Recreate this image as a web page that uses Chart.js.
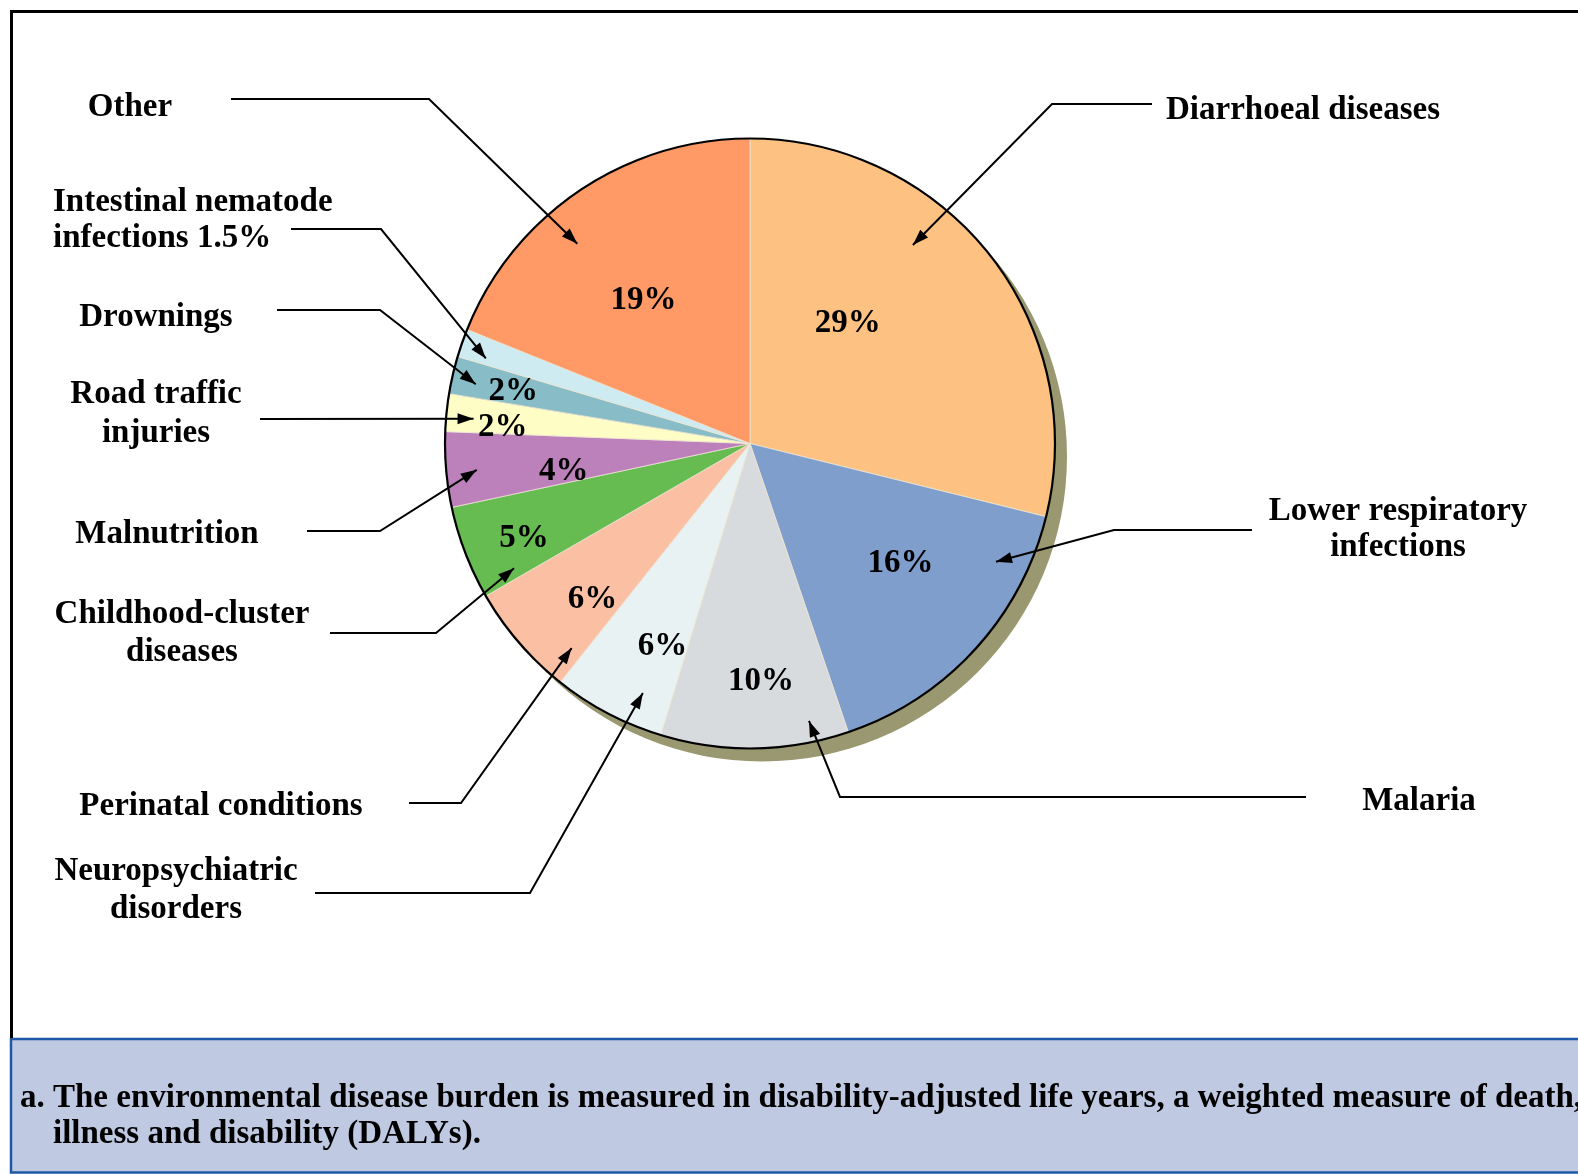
<!DOCTYPE html>
<html>
<head>
<meta charset="utf-8">
<script src="https://cdn.jsdelivr.net/npm/chart.js@4/dist/chart.umd.min.js"></script>
<style>
  html, body { margin: 0; padding: 0; background: #ffffff; }
  #wrap { position: relative; width: 1578px; height: 1174px; }
  canvas { display: block; }
</style>
</head>
<body>
<div id="wrap"><canvas id="c" width="1578" height="1174"></canvas></div>
<script>
// ---- data ----
const categories = [
  "Diarrhoeal diseases",
  "Lower respiratory infections",
  "Malaria",
  "Neuropsychiatric disorders",
  "Perinatal conditions",
  "Childhood-cluster diseases",
  "Malnutrition",
  "Road traffic injuries",
  "Drownings",
  "Intestinal nematode infections",
  "Other"
];
const shares = [29, 16, 10, 6, 6, 5, 4, 2, 2, 1.5, 19];
const percentLabels = ["29%", "16%", "10%", "6%", "6%", "5%", "4%", "2%", "2%", "", "19%"];
const labelLines = [
  ["Diarrhoeal diseases"],
  ["Lower respiratory", "infections"],
  ["Malaria"],
  ["Neuropsychiatric", "disorders"],
  ["Perinatal conditions"],
  ["Childhood-cluster", "diseases"],
  ["Malnutrition"],
  ["Road traffic", "injuries"],
  ["Drownings"],
  ["Intestinal nematode", "infections 1.5%"],
  ["Other"]
];
const captionLines = [
  ["a.", "The environmental disease burden is measured in disability-adjusted life years, a weighted measure of death,"],
  ["", "illness and disability (DALYs)."]
];

// ---- styles / layout ----
const sliceColors = ["#FDC281", "#7F9ECB", "#D8DBDD", "#E8F2F2", "#FBBFA3", "#66BB51",
                     "#BC80BB", "#FFFDC6", "#88BCC6", "#CDEBF0", "#FF9966"];
const FONT = "bold 33px 'Liberation Serif', 'Times New Roman', serif";
const TEXT_DY = 3;
// percent label placement inside slice: t = fraction along slice angle, r = fraction of radius
const pctPlace = [
  {t:0.37,r:0.515},{t:0.42,r:0.626},{t:0.45,r:0.77},{t:0.31,r:0.715},{t:0.34,r:0.72},
  {t:0.44,r:0.80},{t:0.32,r:0.616},{t:0.29,r:0.813},{t:0.53,r:0.797},null,{t:0.47,r:0.593}
];
// arrow tip placement inside slice
const tipPlace = [
  {t:0.379,r:0.842},{t:0.206,r:0.895},{t:0.19,r:0.93},{t:0.29,r:0.89},{t:0.12,r:0.89},
  {t:0.12,r:0.875},{t:0.46,r:0.9},{t:0.4,r:0.91},{t:0.39,r:0.92},{t:0.24,r:0.91},{t:0.40,r:0.866}
];
// label text placement and leader elbows (page pixels)
const labelPlace = [
  {align:"left",   x:1166, ys:[107],      line:[[1152,104],[1052,104]]},
  {align:"center", x:1398, ys:[508,544],  line:[[1252,530],[1114,530]]},
  {align:"center", x:1419, ys:[798],      line:[[1306,797],[840,797]]},
  {align:"center", x:176,  ys:[868,906],  line:[[315,893],[530,893]]},
  {align:"center", x:221,  ys:[803],      line:[[409,803],[461,803]]},
  {align:"center", x:182,  ys:[611,649],  line:[[330,633],[436,633]]},
  {align:"center", x:167,  ys:[531],      line:[[307,531],[380,531]]},
  {align:"center", x:156,  ys:[391,430],  line:[[260,419]]},
  {align:"center", x:156,  ys:[314],      line:[[277,310],[380,310]]},
  {align:"left",   x:53,   ys:[199,235],  line:[[291,229],[381,229]]},
  {align:"center", x:130,  ys:[104],      line:[[231,99],[429,99]]}
];

function polar(arc, p) {
  const a = arc.startAngle + p.t * (arc.endAngle - arc.startAngle);
  const r = p.r * arc.outerRadius;
  return [arc.x + Math.cos(a) * r, arc.y + Math.sin(a) * r];
}

const decor = {
  id: "decor",
  beforeDraw(chart) {
    const ctx = chart.ctx;
    ctx.save();
    ctx.fillStyle = "#ffffff";
    ctx.fillRect(0, 0, chart.width, chart.height);
    // caption box
    ctx.fillStyle = "#BFC9E2";
    ctx.fillRect(11, 1039, 1567, 134);
    ctx.strokeStyle = "#1F58A4";
    ctx.lineWidth = 2.5;
    ctx.beginPath();
    ctx.moveTo(1578, 1039); ctx.lineTo(11, 1039); ctx.lineTo(11, 1172.5); ctx.lineTo(1578, 1172.5);
    ctx.stroke();
    // black frame
    ctx.strokeStyle = "#000000";
    ctx.lineWidth = 3;
    ctx.beginPath();
    ctx.moveTo(11.5, 1038); ctx.lineTo(11.5, 11.5); ctx.lineTo(1578, 11.5);
    ctx.stroke();
    // caption text
    ctx.fillStyle = "#000000";
    ctx.font = FONT;
    ctx.textBaseline = "middle";
    ctx.textAlign = "left";
    const cy = [1098, 1134];
    captionLines.forEach((ln, i) => {
      if (ln[0]) ctx.fillText(ln[0], 20, cy[i]);
      ctx.fillText(ln[1], 53, cy[i]);
    });
    ctx.restore();
  },
  beforeDatasetsDraw(chart) {
    const arc = chart.getDatasetMeta(0).data[0];
    const ctx = chart.ctx;
    ctx.save();
    ctx.fillStyle = "#9A9870";
    ctx.beginPath();
    ctx.arc(arc.x + 12, arc.y + 13, arc.outerRadius, 0, Math.PI * 2);
    ctx.fill();
    ctx.restore();
  },
  afterDatasetsDraw(chart) {
    const arcs = chart.getDatasetMeta(0).data;
    const ctx = chart.ctx;
    ctx.save();
    // outline
    ctx.strokeStyle = "#000000";
    ctx.lineWidth = 2.2;
    ctx.beginPath();
    ctx.arc(arcs[0].x, arcs[0].y, arcs[0].outerRadius, 0, Math.PI * 2);
    ctx.stroke();
    // percent labels
    ctx.fillStyle = "#000000";
    ctx.font = FONT;
    ctx.textAlign = "center";
    ctx.textBaseline = "middle";
    arcs.forEach((a, i) => {
      if (!pctPlace[i] || !percentLabels[i]) return;
      const [x, y] = polar(a, pctPlace[i]);
      ctx.fillText(percentLabels[i], x, y + TEXT_DY);
    });
    // leader lines + arrows
    ctx.lineWidth = 2;
    ctx.strokeStyle = "#000000";
    arcs.forEach((a, i) => {
      const tip = polar(a, tipPlace[i]);
      const pts = labelPlace[i].line.concat([tip]);
      ctx.beginPath();
      ctx.moveTo(pts[0][0], pts[0][1]);
      for (let k = 1; k < pts.length; k++) ctx.lineTo(pts[k][0], pts[k][1]);
      ctx.stroke();
      const prev = pts[pts.length - 2];
      const ang = Math.atan2(tip[1] - prev[1], tip[0] - prev[0]);
      const L = 16, W = 5.5;
      ctx.beginPath();
      ctx.moveTo(tip[0], tip[1]);
      ctx.lineTo(tip[0] - L * Math.cos(ang) + W * Math.sin(ang), tip[1] - L * Math.sin(ang) - W * Math.cos(ang));
      ctx.lineTo(tip[0] - L * Math.cos(ang) - W * Math.sin(ang), tip[1] - L * Math.sin(ang) + W * Math.cos(ang));
      ctx.closePath();
      ctx.fill();
    });
    // category labels
    ctx.textBaseline = "middle";
    labelLines.forEach((lines, i) => {
      const lp = labelPlace[i];
      ctx.textAlign = lp.align;
      lines.forEach((t, j) => ctx.fillText(t, lp.x, lp.ys[j] + TEXT_DY));
    });
    ctx.restore();
  }
};

new Chart(document.getElementById("c"), {
  type: "pie",
  data: {
    labels: categories,
    datasets: [{
      data: shares,
      backgroundColor: sliceColors,
      borderColor: "#EFE6D6",
      borderWidth: 0.8,
      radius: 305
    }]
  },
  options: {
    responsive: false,
    animation: false,
    layout: { padding: { left: 0, right: 78, top: 0, bottom: 287 } },
    plugins: { legend: { display: false }, tooltip: { enabled: false } }
  },
  plugins: [decor]
});
</script>
</body>
</html>
